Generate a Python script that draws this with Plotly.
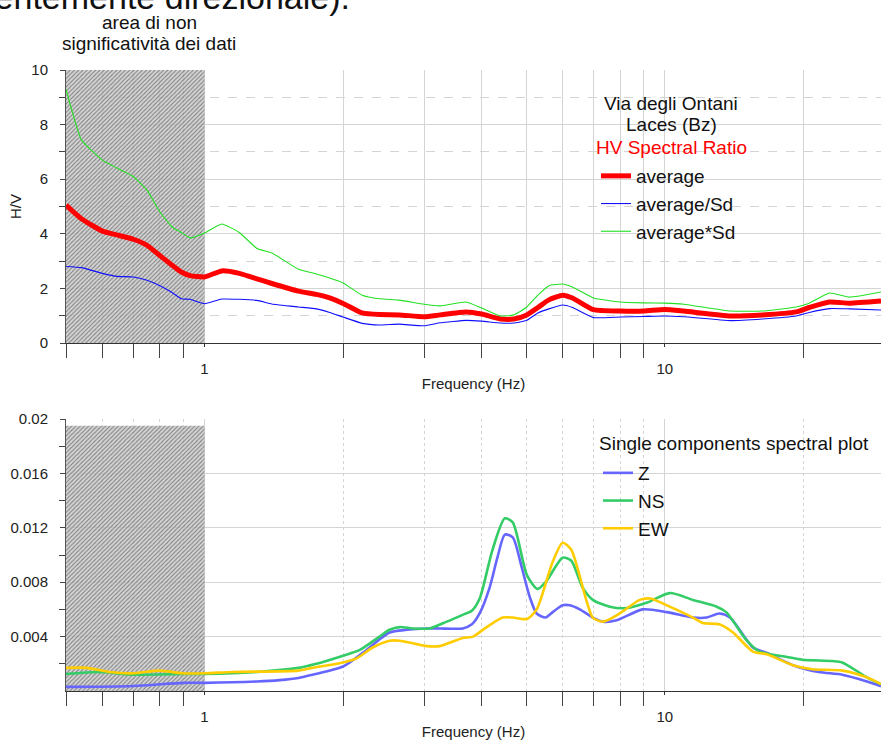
import math
import plotly.graph_objects as go
from plotly.subplots import make_subplots

# ---------------- data ----------------
freq_hv = [0.5, 0.54, 0.6, 0.645, 0.7, 0.75, 0.8, 0.85, 0.89, 0.93, 1.0, 1.09, 1.19, 1.3, 1.4,
           1.6, 1.75, 1.87, 2.0, 2.2, 2.4, 2.65, 3.0, 3.25, 3.7, 4.0, 4.4, 4.7, 5.0, 5.3, 5.6,
           6.0, 6.3, 7.0, 8.0, 9.0, 10.0, 11.0, 13.9, 16.3, 19.3, 20.6, 22.8, 25.2, 29.5]
hv_average = [5.05, 4.55, 4.1, 3.96, 3.8, 3.58, 3.2, 2.85, 2.6, 2.47, 2.42, 2.64, 2.55, 2.35, 2.18,
              1.9, 1.78, 1.65, 1.45, 1.1, 1.04, 1.03, 0.96, 1.03, 1.14, 1.06, 0.88, 0.88, 1.02, 1.3, 1.58,
              1.75, 1.65, 1.22, 1.17, 1.17, 1.23, 1.17, 0.99, 1.03, 1.14, 1.3, 1.5, 1.46, 1.54]
hv_avg_div_sd = [2.8, 2.76, 2.55, 2.44, 2.42, 2.3, 2.1, 1.85, 1.62, 1.6, 1.44, 1.61, 1.6, 1.56, 1.43,
                 1.32, 1.25, 1.12, 0.95, 0.72, 0.66, 0.69, 0.63, 0.74, 0.83, 0.8, 0.73, 0.73, 0.82, 1.1, 1.25,
                 1.39, 1.3, 0.93, 0.95, 0.97, 0.99, 0.96, 0.82, 0.88, 0.99, 1.12, 1.26, 1.25, 1.21]
hv_avg_mul_sd = [9.3, 7.44, 6.7, 6.41, 6.1, 5.6, 4.8, 4.25, 4.05, 3.85, 4.03, 4.36, 4.05, 3.46, 3.3,
                 2.7, 2.53, 2.38, 2.2, 1.75, 1.62, 1.57, 1.42, 1.36, 1.5, 1.28, 0.99, 1.03, 1.3, 1.75, 2.1,
                 2.16, 2.05, 1.65, 1.5, 1.47, 1.46, 1.42, 1.17, 1.17, 1.32, 1.46, 1.83, 1.68, 1.87]

freq_z = [0.5, 0.7, 0.9, 1.0, 1.3, 1.455, 1.6, 1.716, 2.0, 2.206, 2.524, 2.75, 3.04, 3.24, 3.64, 3.81,
          3.96, 4.163, 4.335, 4.492, 4.674, 4.888, 5.09, 5.268, 5.51, 5.708, 6.0, 6.215, 6.536, 6.977,
          7.34, 7.86, 8.96, 10.1, 11.51, 12.34, 13.13, 13.86, 15.54, 16.66, 18.99, 21.6, 24.3, 27.5, 29.5]
amp_z = [0.0003, 0.00037, 0.0006, 0.0006, 0.0007, 0.0008, 0.00096, 0.0012, 0.0018, 0.0028, 0.0043,
         0.0045, 0.0046, 0.0046, 0.0046, 0.0049, 0.0057, 0.0076, 0.0099, 0.0115, 0.0113, 0.0091, 0.0069,
         0.0057, 0.0054, 0.0058, 0.0063, 0.0063, 0.006, 0.0054, 0.0051, 0.0052, 0.006, 0.0058, 0.0054,
         0.0054, 0.0057, 0.0054, 0.0032, 0.0028, 0.0019, 0.0014, 0.0012, 0.0007, 0.00035]

freq_ns = [0.5, 0.59, 0.7, 0.9, 1.0, 1.3, 1.6, 1.75, 2.0, 2.17, 2.4, 2.524, 2.654, 2.833, 3.083, 3.36,
           3.638, 3.808, 3.961, 4.225, 4.492, 4.674, 5.02, 5.29, 5.51, 6.0, 6.26, 6.63, 6.977, 7.595,
           8.27, 9.16, 10.25, 11.51, 12.97, 13.6, 15.08, 16.06, 18.42, 19.93, 23.1, 24.3, 27.5, 29.5]
amp_ns = [0.00125, 0.0014, 0.0012, 0.00125, 0.00125, 0.0014, 0.0017, 0.002, 0.0026, 0.003, 0.004,
          0.0045, 0.0047, 0.0046, 0.0046, 0.0051, 0.0056, 0.0059, 0.0068, 0.0104, 0.0127, 0.0124,
          0.0085, 0.0075, 0.008, 0.0098, 0.0096, 0.0076, 0.0067, 0.0062, 0.0061, 0.0065, 0.0072,
          0.0067, 0.0062, 0.0058, 0.0037, 0.0029, 0.0025, 0.0023, 0.0022, 0.0021, 0.001, 0.0005]

freq_ew = [0.5, 0.554, 0.622, 0.697, 0.798, 0.896, 1.0, 1.15, 1.6, 1.716, 2.0, 2.14, 2.318, 2.524,
           2.654, 3.038, 3.243, 3.638, 3.83, 4.102, 4.447, 4.674, 5.02, 5.268, 5.708, 6.0, 6.26, 6.75,
           6.977, 7.34, 7.98, 8.826, 9.3, 10.25, 11.51, 12.09, 13.13, 14.07, 15.54, 16.66, 18.99,
           20.9, 24.3, 27.5, 29.5]
amp_ew = [0.0017, 0.0017, 0.0014, 0.0013, 0.0015, 0.0013, 0.0013, 0.0014, 0.0015, 0.0017, 0.0021,
          0.0024, 0.0032, 0.0037, 0.0037, 0.0033, 0.0033, 0.0039, 0.004, 0.0047, 0.0054, 0.0054,
          0.0053, 0.006, 0.0095, 0.0109, 0.0104, 0.0067, 0.0054, 0.0051, 0.0057, 0.0067, 0.0068,
          0.0062, 0.0054, 0.005, 0.0049, 0.0043, 0.0029, 0.0027, 0.0019, 0.0016, 0.0015, 0.001, 0.0005]

x_major_ticks = [1, 10]
x_major_labels = ["1", "10"]
x_minor_ticks = [0.5, 0.6, 0.7, 0.8, 0.9, 2, 3, 4, 5, 6, 7, 8, 9, 20]
hv_major_ticks = [0, 2, 4, 6, 8, 10]
hv_minor_ticks = [1, 3, 5, 7, 9]
amp_major_ticks = [0.004, 0.008, 0.012, 0.016, 0.02]
amp_major_labels = ["0.004", "0.008", "0.012", "0.016", "0.02"]
amp_minor_ticks = [0.002, 0.006, 0.010, 0.014, 0.018]
nonsig_band = [0.5, 1.0]          # frequency band of non-significant data
hv_range = [0, 10]
amp_range = [0, 0.02]
amp_band_top = 0.0195
freq_range = [0.5, 29.5]

# ---------------- figure ----------------
FONT = "Liberation Sans, Arial, Helvetica, sans-serif"
W, H = 881, 741
ML, MR, MT, MB = 66, 0, 70, 50
PW, PH = W - ML - MR, H - MT - MB


def px_x(px):
    return (px - ML) / PW


def px_y(py):
    return (H - MB - py) / PH


fig = make_subplots(rows=2, cols=1, vertical_spacing=0.12)
fig.update_layout(
    xaxis=dict(domain=[0, 1]), yaxis=dict(domain=[px_y(343), 1.0]),
    xaxis2=dict(domain=[0, 1]), yaxis2=dict(domain=[0, px_y(419)]),
)

hatch = dict(shape="/", size=3, solidity=0.35, fgcolor="#6a6a6a", fgopacity=0.8,
             bgcolor="rgba(200,200,200,0.75)")

# hatched non-significant area, top
fig.add_trace(go.Scatter(
    x=[nonsig_band[0], nonsig_band[1], nonsig_band[1], nonsig_band[0], nonsig_band[0]],
    y=[hv_range[0], hv_range[0], hv_range[1], hv_range[1], hv_range[0]],
    mode="none", fill="toself", fillcolor="rgba(200,200,200,0.75)", fillpattern=hatch,
    showlegend=False, hoverinfo="skip"), row=1, col=1)
# hatched non-significant area, bottom
fig.add_trace(go.Scatter(
    x=[nonsig_band[0], nonsig_band[1], nonsig_band[1], nonsig_band[0], nonsig_band[0]],
    y=[amp_range[0], amp_range[0], amp_band_top, amp_band_top, amp_range[0]],
    mode="none", fill="toself", fillcolor="rgba(200,200,200,0.75)", fillpattern=hatch,
    showlegend=False, hoverinfo="skip"), row=2, col=1)

# top: H/V curves
fig.add_trace(go.Scatter(x=freq_hv, y=hv_average, name="average", mode="lines",
                         line=dict(color="#ff0000", width=5, shape="spline", smoothing=0.5),
                         legend="legend"), row=1, col=1)
fig.add_trace(go.Scatter(x=freq_hv, y=hv_avg_div_sd, name="average/Sd", mode="lines",
                         line=dict(color="#1010ff", width=1.1, shape="spline", smoothing=0.4),
                         legend="legend"), row=1, col=1)
fig.add_trace(go.Scatter(x=freq_hv, y=hv_avg_mul_sd, name="average*Sd", mode="lines",
                         line=dict(color="#22e022", width=1.1, shape="spline", smoothing=0.4),
                         legend="legend"), row=1, col=1)

# bottom: single components
fig.add_trace(go.Scatter(x=freq_z, y=amp_z, name="Z", mode="lines",
                         line=dict(color="#6666ff", width=2.6, shape="spline", smoothing=0.7),
                         legend="legend2"), row=2, col=1)
fig.add_trace(go.Scatter(x=freq_ns, y=amp_ns, name="NS", mode="lines",
                         line=dict(color="#33cc66", width=2.6, shape="spline", smoothing=0.7),
                         legend="legend2"), row=2, col=1)
fig.add_trace(go.Scatter(x=freq_ew, y=amp_ew, name="EW", mode="lines",
                         line=dict(color="#ffcc00", width=2.6, shape="spline", smoothing=0.7),
                         legend="legend2"), row=2, col=1)

xrange_log = [math.log10(freq_range[0]), math.log10(freq_range[1])]
tickfont = dict(family=FONT, size=15, color="#222")
GRID = "#d4d4d4"

common_x = dict(type="log", range=xrange_log, tickmode="array", tickvals=x_major_ticks,
                ticktext=x_major_labels, ticks="outside", ticklen=3, tickcolor="#333",
                showline=True, linecolor="#333", linewidth=1, gridcolor=GRID, gridwidth=1,
                tickfont=tickfont, ticklabelstandoff=9, zeroline=False, automargin=False,
                title=dict(text="Frequency (Hz)", font=dict(family=FONT, size=15, color="#222"),
                           standoff=2))

fig.update_xaxes(**common_x,
                 minor=dict(tickmode="array", tickvals=x_minor_ticks, ticks="outside", ticklen=14,
                            tickcolor="#444", showgrid=True, gridcolor=GRID, griddash="solid"),
                 row=1, col=1)
fig.update_xaxes(**common_x,
                 minor=dict(tickmode="array", tickvals=x_minor_ticks, ticks="outside", ticklen=14,
                            tickcolor="#444", showgrid=True, gridcolor=GRID, griddash="dot"),
                 row=2, col=1)

fig.update_yaxes(range=hv_range, tickmode="array", tickvals=hv_major_ticks, ticks="outside",
                 ticklen=5, tickcolor="#444", showline=True, linecolor="#555", gridcolor=GRID,
                 tickfont=tickfont, ticklabelstandoff=9, zeroline=False, automargin=False,
                 minor=dict(tickmode="array", tickvals=hv_minor_ticks, ticks="outside", ticklen=6,
                            tickcolor="#444", showgrid=True, gridcolor=GRID, griddash="dash"),
                 title=dict(text="H/V", font=dict(family=FONT, size=15, color="#222"), standoff=6),
                 row=1, col=1)
fig.update_yaxes(range=amp_range, tickmode="array", tickvals=amp_major_ticks,
                 ticktext=amp_major_labels, ticks="outside", ticklen=5, tickcolor="#444",
                 showline=True, linecolor="#555", gridcolor=GRID, tickfont=tickfont,
                 ticklabelstandoff=9, zeroline=False, automargin=False,
                 minor=dict(tickmode="array", tickvals=amp_minor_ticks, ticks="outside", ticklen=6,
                            tickcolor="#444", showgrid=False),
                 row=2, col=1)

legend_font = dict(family=FONT, size=19, color="#111")
fig.update_layout(
    width=W, height=H,
    margin=dict(l=ML, r=MR, t=MT, b=MB, autoexpand=False),
    paper_bgcolor="white", plot_bgcolor="white",
    font=dict(family=FONT, color="#222"),
    legend=dict(x=px_x(596), y=px_y(157), xanchor="left", yanchor="top",
                bgcolor="rgba(0,0,0,0)", font=legend_font, tracegroupgap=0),
    legend2=dict(x=px_x(598), y=px_y(454), xanchor="left", yanchor="top",
                 bgcolor="rgba(0,0,0,0)", font=legend_font, tracegroupgap=0),
    annotations=[
        dict(text="prevalentemente direzionale).", xref="paper", yref="paper",
             x=px_x(352), y=px_y(-3), xanchor="right", yanchor="middle", showarrow=False,
             font=dict(family=FONT, size=34, color="#111")),
        dict(text="area di non", xref="paper", yref="paper", x=px_x(149), y=px_y(22),
             xanchor="center", yanchor="middle", showarrow=False, font=legend_font),
        dict(text="significatività dei dati", xref="paper", yref="paper", x=px_x(149),
             y=px_y(43), xanchor="center", yanchor="middle", showarrow=False, font=legend_font),
        dict(text="Via degli Ontani", xref="paper", yref="paper", x=px_x(671), y=px_y(103),
             xanchor="center", yanchor="middle", showarrow=False, font=legend_font),
        dict(text="Laces (Bz)", xref="paper", yref="paper", x=px_x(671), y=px_y(125),
             xanchor="center", yanchor="middle", showarrow=False, font=legend_font),
        dict(text="HV Spectral Ratio", xref="paper", yref="paper", x=px_x(671), y=px_y(147),
             xanchor="center", yanchor="middle", showarrow=False,
             font=dict(family=FONT, size=19, color="#ff0000")),
        dict(text="Single components spectral plot", xref="paper", yref="paper", x=px_x(597),
             y=px_y(443), xanchor="left", yanchor="middle", showarrow=False, font=legend_font),
    ],
)

fig.write_html("out.html", config={"displayModeBar": False},
               post_script="document.body.style.margin='0px';")
